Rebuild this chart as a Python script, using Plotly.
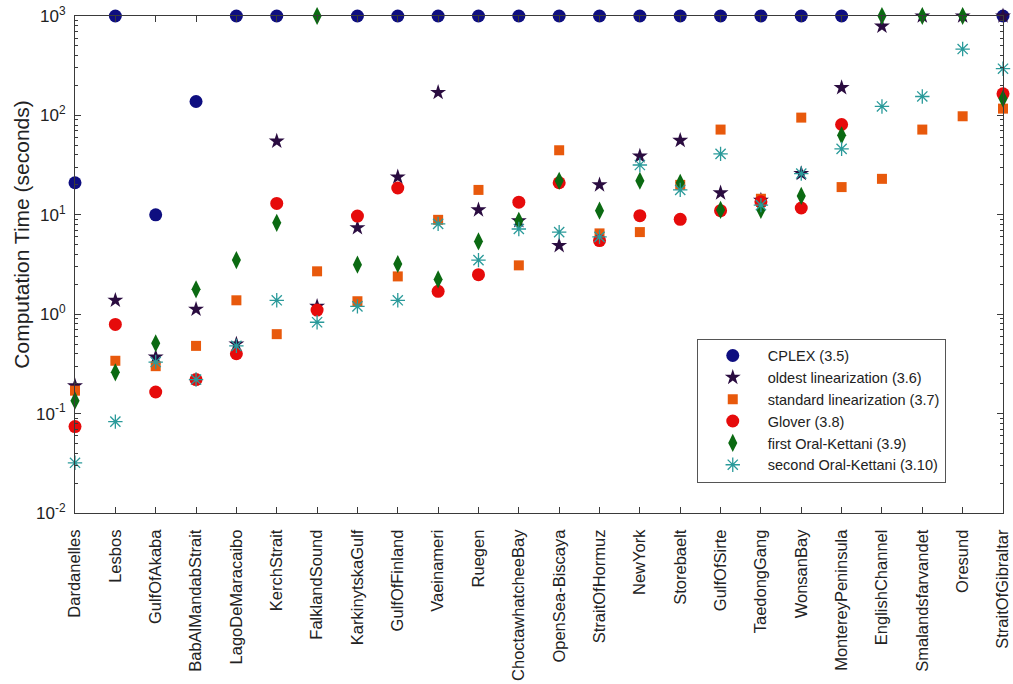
import plotly.graph_objects as go

categories = ["Dardanelles", "Lesbos", "GulfOfAkaba", "BabAlMandabStrait", "LagoDeMaracaibo",
              "KerchStrait", "FalklandSound", "KarkinytskaGulf", "GulfOfFinland", "Vaeinameri",
              "Ruegen", "ChoctawhatcheeBay", "OpenSea-Biscaya", "StraitOfHormuz", "NewYork",
              "Storebaelt", "GulfOfSirte", "TaedongGang", "WonsanBay", "MontereyPeninsula",
              "EnglishChannel", "Smalandsfarvandet", "Oresund", "StraitOfGibraltar"]

cplex = [21, 1000, 10, 138, 1000, 1000, None, 1000, 1000, 1000, 1000, 1000,
         1000, 1000, 1000, 1000, 1000, 1000, 1000, 1000, None, None, None, 1000]
oldest = [0.19, 1.38, 0.37, 1.12, 0.5, 55, 1.2, 7.4, 24, 170, 11.2, 8.7,
          4.9, 20, 39, 56, 16.6, 14, 26, 190, 790, 1000, 1000, 1000]
standard = [0.17, 0.34, 0.3, 0.48, 1.38, 0.63, 2.7, 1.35, 2.4, 8.9, 17.8, 3.1,
            44.6, 6.5, 6.7, 20, 72, 14.5, 95, 19, 23, 72, 98, 117]
glover = [0.074, 0.79, 0.165, 0.22, 0.40, 13, 1.1, 9.7, 18.6, 1.7, 2.5, 13.4,
          21, 5.5, 9.8, 9, 11, 13.5, 11.7, 81, None, None, None, 165]
first_ok = [0.135, 0.26, 0.51, 1.78, 3.5, 8.3, 1000, 3.15, 3.2, 2.24, 5.4, 8.7,
            22, 11, 22, 21, 11.2, 11.2, 15.5, 63, 1000, 1000, 1000, 147]
second_ok = [0.032, 0.083, 0.33, 0.22, 0.48, 1.38, 0.83, 1.2, 1.38, 8.1, 3.5, 7.2,
             6.7, 6, 31.7, 17.8, 41, 12.5, 26, 46, 123, 155, 465, 295]

y_ticks = [0.01, 0.1, 1, 10, 100, 1000]
y_ticktext = ["10<sup>-2</sup>", "10<sup>-1</sup>", "10<sup>0</sup>",
              "10<sup>1</sup>", "10<sup>2</sup>", "10<sup>3</sup>"]
y_title = "Computation Time (seconds)"

series = [
    ("CPLEX (3.5)", cplex, dict(symbol="circle", size=13, color="#0e0e80")),
    ("oldest linearization (3.6)", oldest, dict(symbol="star", size=12, color="#2a0c40")),
    ("standard linearization (3.7)", standard, dict(symbol="square", size=10, color="#e8590c")),
    ("Glover (3.8)", glover, dict(symbol="circle", size=13, color="#e60b0b")),
    ("first Oral-Kettani (3.9)", first_ok, dict(symbol="diamond-tall", size=13, color="#0b6a12")),
    ("second Oral-Kettani (3.10)", second_ok,
     dict(symbol="asterisk-open", size=12, color="#2a9a9a", line=dict(width=1.3, color="#2a9a9a"))),
]

fig = go.Figure()
for name, vals, marker in series:
    fig.add_trace(go.Scatter(x=categories, y=vals, mode="markers", name=name,
                             marker=marker, cliponaxis=False))

minor_vals = [m * 10 ** k for k in range(-2, 3) for m in range(2, 10)]

axis_common = dict(showline=True, linecolor="#3a3a3a", linewidth=1, mirror="ticks",
                   ticks="inside", tickcolor="#3a3a3a", showgrid=False, zeroline=False,
                   automargin=False, ticklabeloverflow="allow")

fig.update_layout(
    width=1013, height=684,
    margin=dict(l=75, r=10, t=16, b=171),
    paper_bgcolor="white", plot_bgcolor="white",
    font=dict(family="Liberation Sans, Arial, sans-serif", size=16, color="#222222"),
    xaxis=dict(range=[0, 23], tickangle=-90, ticklen=6, tickfont=dict(size=16.5),
               ticklabelstandoff=9, **axis_common),
    yaxis=dict(type="log", range=[-2, 3], tickvals=y_ticks, ticktext=y_ticktext,
               ticklen=6, tickfont=dict(size=17), ticklabelstandoff=5,
               minor=dict(ticks="inside", ticklen=3, tickcolor="#3a3a3a", tickvals=minor_vals),
               **axis_common),
    legend=dict(x=0.670, y=0.351, xanchor="left", yanchor="top",
                bgcolor="white", bordercolor="#555555", borderwidth=1,
                font=dict(size=14.5), itemwidth=60, tracegroupgap=0),
    showlegend=True,
    annotations=[dict(text=y_title, textangle=-90, xref="paper", yref="paper",
                      x=-0.0571, y=0.56, xanchor="center", yanchor="middle",
                      showarrow=False, font=dict(size=21, color="#222222"))],
)

fig.write_html("out.html", config={"displayModeBar": False},
               post_script="document.body.style.margin='0px';")
